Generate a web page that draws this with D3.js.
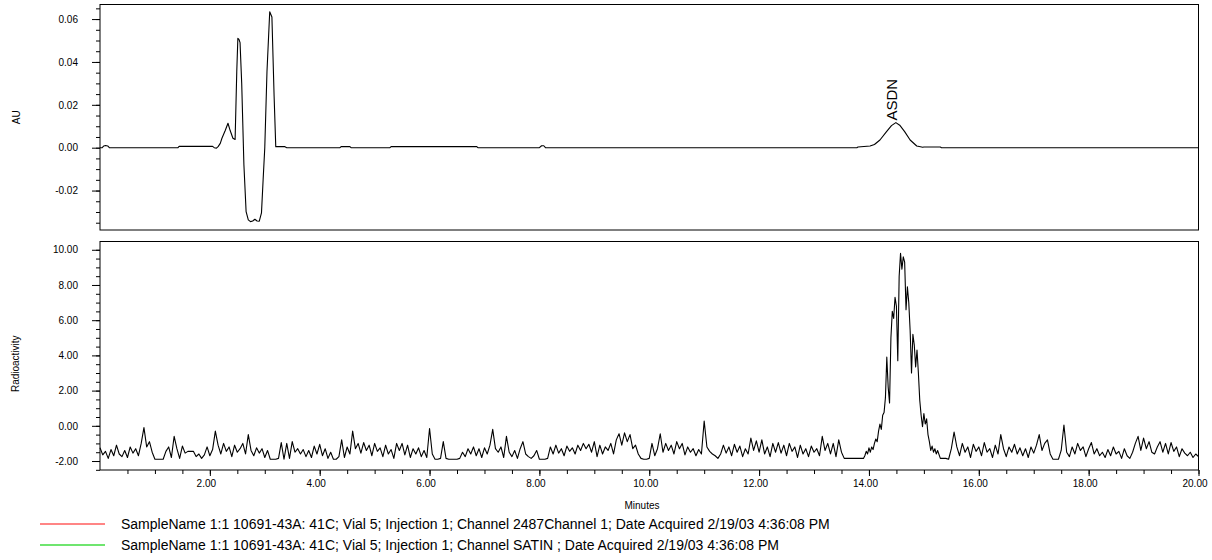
<!DOCTYPE html>
<html>
<head>
    <meta charset="utf-8">
    <title>ASDN chromatogram</title>
    <script src="https://cdn.jsdelivr.net/npm/d3@7"></script>
    <style>
        body { margin: 0; background: #fff; }
        svg { display: block; font-family: "Liberation Sans", Arial, sans-serif; }
        .tick text { font-size: 10px; fill: #000; }
        .tick line { stroke: #000; }
        .frame { fill: none; stroke: #000; stroke-width: 1; }
        .trace { fill: none; stroke: #000; stroke-width: 1.1; stroke-linejoin: round; }
    </style>
</head>
<body>
<div id="chart"></div>
<script>
    // UV channel (AU): minutes / absorbance
    var auTime = [0.00, 0.04, 0.07, 0.10, 0.14, 0.17, 1.42, 1.44, 2.05, 2.08,
        2.12, 2.15, 2.19, 2.22, 2.28, 2.33, 2.37, 2.42, 2.46, 2.49,
        2.51, 2.53, 2.55, 2.58, 2.62, 2.66, 2.70, 2.74, 2.78, 2.82,
        2.86, 2.90, 2.94, 2.97, 3.00, 3.04, 3.09, 3.13, 3.17, 3.20,
        3.36, 3.40, 4.37, 4.39, 4.55, 4.57, 5.28, 5.30, 6.86, 6.88,
        8.00, 8.04, 8.08, 8.11, 13.78, 13.80, 14.02, 14.10, 14.20, 14.32,
        14.41, 14.49, 14.56, 14.65, 14.75, 14.87, 14.98, 15.00, 15.30, 15.32, 20.00];
    var auValue = [0, 0, 0.0008, 0.001, 0.0008, 0, 0, 0.0006, 0.0006, 0,
        -0.0002, 0.0005, 0.002, 0.0044, 0.008, 0.0114, 0.008, 0.0044, 0.0038, 0.0354,
        0.051, 0.0505, 0.049, 0.03, -0.008, -0.0298, -0.0337, -0.0345, -0.0342, -0.0334,
        -0.0342, -0.0343, -0.0304, -0.015, 0, 0.0354, 0.0634, 0.061, 0.024, 0.0005,
        0.0005, 0, 0, 0.0005, 0.0005, 0, 0, 0.0005, 0.0005, 0,
        0, 0.0009, 0.0009, 0, 0, 0.0003, 0.0008, 0.0015, 0.0036, 0.0075,
        0.0103, 0.0117, 0.0105, 0.0075, 0.0036, 0.0008, 0.0002, 0.0003, 0.0003, 0, 0];

    // radioactivity channel, sampled every 0.05 min from 0.00
    var radEarly = [
        -1.25, -1.65, -1.45, -1.85, -1.35, -1.7, -1.1, -1.6, -1.75, -1.4, -1.8, -1.2, -1.55, -1.3, -1.7, -1.0, -0.1, -1.2,
        -0.9, -1.5, -1.9, -1.9, -1.9, -1.9, -1.45, -1.2, -1.8, -0.6, -1.3, -1.85, -1.15, -1.55, -1.45, -1.45, -1.45, -1.75, -1.6, -1.85,
        -1.65, -1.2, -1.7, -1.35, -0.3, -1.1, -1.6, -1.0, -1.45, -1.2, -1.75, -1.1, -1.5, -1.3, -1.0, -1.6, -0.5, -1.4, -1.7, -1.25,
        -1.55, -1.3, -1.8, -1.4, -1.9, -1.9, -1.9, -1.85, -0.95, -1.9, -1.0, -1.85, -0.9, -1.5, -1.3, -1.6, -1.35, -1.75, -1.4, -1.8,
        -1.15, -1.6, -1.05, -1.7, -1.3, -1.85, -1.5, -1.9, -1.9, -1.75, -0.8, -1.8, -1.2, -1.6, -0.3, -1.3, -1.0, -1.55, -0.95, -1.4,
        -1.1, -1.7, -1.0, -1.45, -1.25, -1.75, -1.1, -1.6, -1.35, -1.85, -1.0, -1.4, -1.0, -1.65, -1.1, -1.8, -1.3, -1.6, -1.25, -1.75,
        -1.4, -1.8, -0.15, -1.6, -1.9, -1.9, -1.85, -0.9, -1.85, -1.9, -1.9, -1.9, -1.9, -1.85, -1.5, -1.75, -1.3, -1.6, -1.2, -1.7,
        -1.3, -1.8, -1.25, -1.6, -1.1, -0.2, -1.3, -1.5, -1.2, -1.8, -0.6, -1.5, -1.75, -1.4, -1.85, -1.3, -0.9, -1.6, -1.75, -1.85,
        -1.7, -1.4, -1.9, -1.9, -1.9, -1.85, -1.2, -1.6, -1.1, -1.55, -1.3, -1.7, -1.15, -1.45, -1.25, -1.6, -1.1, -1.4, -1.0, -1.3,
        -1.05, -1.5, -0.9, -1.75, -1.1, -1.6, -1.2, -1.4, -1.0, -1.6, -0.8, -0.45, -1.1, -0.4, -0.9, -0.5, -1.3, -1.1, -1.6, -1.85,
        -1.9, -1.9, -1.85, -1.0, -1.7, -1.3, -0.45, -1.5, -1.0, -1.4, -1.1, -1.6, -0.9, -1.3, -1.0, -1.65, -1.2, -1.5, -1.3, -1.7,
        -1.35, -1.6, 0.27, -1.2, -1.45, -1.6, -1.7, -1.85, -1.6, -1.1, -1.55, -1.2, -1.7, -1.05, -1.5, -1.15, -1.75, -1.3, -1.6, -0.7,
        -1.4, -0.85, -1.5, -0.8, -1.6, -1.2, -1.75, -1.0, -1.5, -0.95, -1.55, -1.1, -1.7, -1.0, -1.45, -1.2, -1.8, -1.1, -1.6, -1.3,
        -1.75, -1.15, -1.5, -1.3, -1.7, -0.6, -1.4, -1.0, -1.6, -1.0, -1.75, -0.8, -1.5, -1.85, -1.85, -1.85, -1.85, -1.85, -1.85];

    // ASDN peak, sampled every 0.025 min from 13.90
    var radPeak = [
        -1.85, -1.7, -1.45, -1.6, -1.25, -1.5, -1.2, -1.35, -1.0, -0.75,
        -0.9, -0.3, 0.1, -0.2, 0.6, 0.75, 1.6, 3.9, 2.2, 1.3,
        5.0, 6.5, 6.1, 7.3, 6.8, 3.7, 8.5, 9.8, 8.9, 9.6,
        9.3, 6.6, 7.9, 7.0, 5.4, 3.0, 5.2, 4.6, 3.35, 4.3,
        3.0, 1.45, 0.6, -0.05, 0.7, 0.1, 0.4, -0.5, -0.9, -1.4,
        -1.15, -1.5, -1.3, -1.6, -1.4];

    // tail, sampled every 0.05 min from 15.30
    var radLate = [
        -1.85, -1.85, -1.85, -1.9, -1.3, -0.35, -1.2, -1.7, -1.0, -1.5, -1.2, -1.8, -1.05,
        -1.45, -1.2, -1.7, -0.95, -1.5, -1.3, -1.8, -1.1, -1.6, -0.5, -1.3, -1.75, -1.2, -1.5, -1.05, -1.6, -1.25, -1.7, -1.3, -1.8,
        -1.2, -1.55, -1.1, -0.5, -1.4, -1.0, -0.8, -1.6, -1.9, -1.9, -1.9, -1.4, 0.05, -1.5, -1.75, -1.2, -1.6, -1.0, -1.4, -1.2,
        -1.75, -1.3, -0.95, -1.6, -1.3, -1.7, -1.5, -1.8, -1.35, -1.7, -1.2, -1.6, -1.45, -1.85, -1.3, -1.7, -1.85, -1.5, -1.0, -0.6,
        -1.4, -0.7, -1.3, -0.9, -1.5, -1.6, -1.2, -0.9, -1.5, -1.0, -1.6, -0.95, -1.45, -1.2, -1.75, -1.3, -1.55, -1.7, -1.5, -1.8,
        -1.6, -1.75];

    var auTicks = [-0.02, 0, 0.02, 0.04, 0.06];
    var radTicks = [-2, 0, 2, 4, 6, 8, 10];
    var minuteTicks = [2, 4, 6, 8, 10, 12, 14, 16, 18, 20];
    var legendLabels = [
        "SampleName 1:1 10691-43A: 41C; Vial 5; Injection 1; Channel 2487Channel 1; Date Acquired 2/19/03 4:36:08 PM",
        "SampleName 1:1 10691-43A: 41C; Vial 5; Injection 1; Channel SATIN ; Date Acquired 2/19/03 4:36:08 PM"];
    var legendColors = ["#ff5c5c", "#3fdc3f"];

    var width = 1212, height = 560;
    var plotLeft = 100, plotRight = 1198.5;
    var top1 = 4.5, bottom1 = 230, top2 = 241.5, bottom2 = 470;

    var svg = d3.select("#chart").append("svg")
        .attr("width", width)
        .attr("height", height);

    var x = d3.scaleLinear().domain([0, 20]).range([plotLeft, plotRight]);
    var yAU = d3.scaleLinear().domain([-0.0384, 0.0668]).range([bottom1, top1]);
    var yRad = d3.scaleLinear().domain([-2.51, 10.47]).range([bottom2, top2]);

    function sampled(start, step, values) {
        return values.map((v, i) => ({t: start + step * i, v: v}));
    }
    var auPoints = auTime.map((t, i) => ({t: t, v: auValue[i]}));
    var radPoints = sampled(0, 0.05, radEarly)
        .concat(sampled(13.90, 0.025, radPeak), sampled(15.30, 0.05, radLate));

    var fmt = d => d.toFixed(2);

    // top panel: UV
    var gAU = svg.append("g");
    gAU.append("g")
        .attr("transform", `translate(${plotLeft},0)`)
        .call(d3.axisLeft(yAU).tickValues(d3.range(-0.035, 0.0651, 0.005)).tickSize(4).tickFormat(""))
        .call(g => g.select(".domain").remove());
    gAU.append("g")
        .attr("transform", `translate(${plotLeft},0)`)
        .call(d3.axisLeft(yAU).tickValues(auTicks).tickSize(8).tickPadding(14).tickFormat(fmt))
        .call(g => g.select(".domain").remove());
    gAU.append("path")
        .datum(auPoints)
        .attr("class", "trace")
        .attr("d", d3.line().x(d => x(d.t)).y(d => yAU(d.v)));
    gAU.append("rect")
        .attr("class", "frame")
        .attr("x", plotLeft).attr("y", top1)
        .attr("width", plotRight - plotLeft).attr("height", bottom1 - top1);
    gAU.append("text")
        .attr("transform", `translate(${x(14.49) + 1},${yAU(0.0117) - 2}) rotate(-90)`)
        .style("font-size", "15px")
        .text("ASDN");
    svg.append("text")
        .attr("transform", `translate(20,${(top1 + bottom1) / 2}) rotate(-90)`)
        .attr("text-anchor", "middle")
        .style("font-size", "10px")
        .text("AU");

    // bottom panel: radioactivity
    var gRad = svg.append("g");
    gRad.append("g")
        .attr("transform", `translate(${plotLeft},0)`)
        .call(d3.axisLeft(yRad).tickValues(d3.range(-2.5, 10.01, 0.5)).tickSize(4).tickFormat(""))
        .call(g => g.select(".domain").remove());
    gRad.append("g")
        .attr("transform", `translate(${plotLeft},0)`)
        .call(d3.axisLeft(yRad).tickValues(radTicks).tickSize(8).tickPadding(14).tickFormat(fmt))
        .call(g => g.select(".domain").remove());
    gRad.append("g")
        .attr("transform", `translate(0,${bottom2})`)
        .call(d3.axisBottom(x).tickValues(d3.range(0.5, 20.01, 0.5)).tickSize(4).tickFormat(""))
        .call(g => g.select(".domain").remove());
    gRad.append("g")
        .attr("transform", `translate(0,${bottom2})`)
        .call(d3.axisBottom(x).tickValues(minuteTicks).tickSize(6).tickPadding(4).tickFormat(fmt))
        .call(g => g.select(".domain").remove())
        .call(g => g.selectAll("text").attr("dx", -4));
    gRad.append("path")
        .datum(radPoints)
        .attr("class", "trace")
        .attr("d", d3.line().x(d => x(d.t)).y(d => yRad(d.v)));
    gRad.append("rect")
        .attr("class", "frame")
        .attr("x", plotLeft).attr("y", top2)
        .attr("width", plotRight - plotLeft).attr("height", bottom2 - top2);
    svg.append("text")
        .attr("transform", `translate(19,${(top2 + bottom2) / 2 + 8}) rotate(-90)`)
        .attr("text-anchor", "middle")
        .style("font-size", "10px")
        .text("Radioactivity");
    svg.append("text")
        .attr("x", 642).attr("y", 509)
        .attr("text-anchor", "middle")
        .style("font-size", "10px")
        .text("Minutes");

    // legend
    var legend = svg.selectAll(".legend")
        .data(legendLabels)
        .enter().append("g")
        .attr("class", "legend")
        .attr("transform", (d, i) => `translate(0,${524 + i * 21})`);
    legend.append("line")
        .attr("x1", 40).attr("x2", 105)
        .style("stroke", (d, i) => legendColors[i])
        .style("stroke-width", 1.5);
    legend.append("text")
        .attr("x", 121).attr("y", 5)
        .style("font-size", "14px")
        .text(d => d);
</script>
</body>
</html>
